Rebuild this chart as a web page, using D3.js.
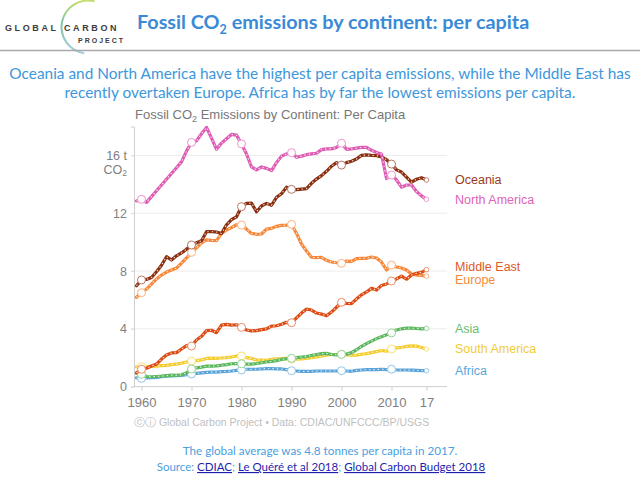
<!DOCTYPE html>
<html><head><meta charset="utf-8">
<script src="https://cdn.jsdelivr.net/npm/d3@7"></script>
<style>body{margin:0;background:#fff} svg{display:block}</style>
</head><body>
<svg id="c" width="640" height="479"></svg>
<script>
// ---------- DATA ----------
const years = d3.range(1959, 2018);
const oceania = [6.98,7.38,7.42,7.55,7.95,8.4,8.99,8.76,9.05,9.25,9.5,9.8,9.95,10.1,10.72,10.72,10.7,10.6,11.2,11.55,11.75,12.45,12.68,12.7,12.1,12.5,12.68,12.55,13.1,13.35,13.8,13.65,13.63,13.67,13.7,14.07,14.36,14.6,14.9,15.25,15.5,15.33,15.5,15.6,15.75,16.0,16.03,16.0,15.98,15.9,15.7,15.4,15.0,14.85,14.5,14.15,14.35,14.45,14.3];
const northAmerica = [12.85,12.96,12.75,13.15,13.55,13.95,14.35,14.75,15.15,15.55,16.3,16.9,17.0,17.5,17.94,17.2,16.42,16.85,17.15,17.45,17.4,16.8,16.1,15.2,15.0,15.2,15.1,14.95,15.5,15.95,16.1,16.19,15.87,15.95,16.05,16.1,16.15,16.4,16.45,16.45,16.55,16.84,16.42,16.45,16.5,16.55,16.55,16.35,16.2,16.1,14.4,14.64,14.3,13.8,13.95,13.95,13.5,13.2,12.96];
const middleEast = [0.96,1.2,1.27,1.43,1.56,1.91,2.19,2.33,2.35,2.6,2.83,2.81,3.22,3.48,3.87,3.9,3.73,4.26,4.31,4.26,4.28,4.1,3.92,3.85,3.87,3.94,4.0,4.19,4.21,4.31,4.45,4.42,4.75,5.09,5.37,5.3,5.09,5.02,4.9,5.16,5.49,5.83,5.76,5.74,6.06,6.35,6.55,6.8,6.68,7.0,7.1,7.31,7.45,7.65,7.43,7.72,7.84,7.91,8.1];
const europe = [6.18,6.5,6.75,7.1,7.45,7.72,7.93,8.07,8.2,8.55,8.9,9.29,9.6,9.94,10.15,10.12,10.1,10.6,10.84,11.0,11.2,11.18,10.9,10.6,10.54,10.56,10.9,10.95,11.09,11.16,11.18,11.23,10.6,9.87,9.38,8.95,8.92,8.95,8.74,8.62,8.57,8.53,8.69,8.67,8.85,8.88,8.88,8.97,8.9,8.62,8.07,8.41,8.28,8.21,8.07,7.79,7.72,7.69,7.65];
const asia = [0.92,0.85,0.7,0.68,0.7,0.72,0.76,0.8,0.78,0.82,0.95,1.22,1.3,1.35,1.42,1.42,1.43,1.48,1.52,1.58,1.6,1.58,1.55,1.56,1.6,1.65,1.7,1.74,1.8,1.88,1.93,1.96,2.0,2.05,2.08,2.15,2.22,2.28,2.3,2.22,2.2,2.23,2.25,2.35,2.55,2.78,2.98,3.15,3.32,3.45,3.58,3.72,3.92,4.0,4.05,4.05,4.02,4.0,4.03];
const southAmerica = [1.36,1.38,1.36,1.4,1.42,1.45,1.47,1.52,1.55,1.62,1.7,1.77,1.8,1.85,1.95,1.97,1.96,1.98,2.0,2.05,2.12,2.12,2.0,1.95,1.85,1.84,1.82,1.88,1.92,1.93,1.95,1.91,1.9,1.92,1.95,2.0,2.05,2.12,2.18,2.22,2.22,2.24,2.2,2.18,2.17,2.24,2.28,2.35,2.42,2.5,2.45,2.6,2.68,2.72,2.78,2.82,2.8,2.7,2.6];
const africa = [0.6,0.57,0.6,0.62,0.64,0.68,0.72,0.74,0.76,0.78,0.82,0.87,0.92,0.95,0.98,1.0,1.0,1.03,1.05,1.08,1.12,1.15,1.2,1.2,1.2,1.22,1.25,1.25,1.23,1.22,1.18,1.1,1.08,1.05,1.05,1.06,1.08,1.08,1.08,1.08,1.08,1.1,1.08,1.06,1.12,1.15,1.17,1.17,1.18,1.2,1.18,1.2,1.15,1.15,1.15,1.14,1.12,1.1,1.1];

const seriesNames  = ["Africa","South America","Asia","Europe","Middle East","Oceania","North America"];
const seriesValues = [africa, southAmerica, asia, europe, middleEast, oceania, northAmerica];
const lineColors   = ["#5ba4d8","#f4cd30","#5cb85f","#f7883a","#dc4c14","#8a2f10","#de5cb4"];
const labelColors  = ["#5aa6da","#f2cc33","#6cc070","#f5893a","#e05a28","#9b3b1b","#e064b9"];

const xTicks = [1960,1970,1980,1990,2000,2010,2017];
const xTickLabels = ["1960","1970","1980","1990","2000","2010","17"];
const yTicks = [0,4,8,12,16];
const yTickLabels = ["0","4","8","12","16 t"];
const markerYears = [1960,1970,1980,1990,2000,2010];

// ---------- DRAW ----------
const svg = d3.select("#c");
const sans = "'Liberation Sans', Arial, Helvetica, sans-serif";
const hfont = "Lato, 'Open Sans', sans-serif";

// Header logo
const defs = svg.append("defs");
const lg = defs.append("linearGradient").attr("id","arcg").attr("x1","0").attr("y1","0").attr("x2","0").attr("y2","1");
lg.append("stop").attr("offset","0%").attr("stop-color","#c9df6a");
lg.append("stop").attr("offset","45%").attr("stop-color","#7cc4a8");
lg.append("stop").attr("offset","100%").attr("stop-color","#a7cfe0");
svg.append("path").attr("d", d3.arc().innerRadius(25.5).outerRadius(27.5).startAngle(0.25).endAngle(-3.0)())
  .attr("transform","translate(88,27)").attr("fill","url(#arcg)");
svg.append("text").attr("x",5).attr("y",31).attr("font-family",sans).attr("font-size",9).attr("font-weight","bold")
  .attr("letter-spacing",2.6).attr("fill","#3c3c3c").text("GLOBAL");
svg.append("text").attr("x",64).attr("y",31).attr("font-family",sans).attr("font-size",9).attr("font-weight","bold")
  .attr("letter-spacing",2.6).attr("fill","#3c3c3c").text("CARBON");
svg.append("text").attr("x",78).attr("y",43).attr("font-family",sans).attr("font-size",7).attr("font-weight","bold")
  .attr("letter-spacing",2).attr("fill","#3c3c3c").text("PROJECT");

// Title
const t = svg.append("text").attr("x",137).attr("y",29).attr("font-family",hfont).attr("font-weight","bold")
  .attr("font-size",19.8).attr("fill","#3a8ad6");
t.append("tspan").text("Fossil CO");
t.append("tspan").attr("font-size",12.5).attr("dy",5).text("2");
t.append("tspan").attr("dy",-5).text(" emissions by continent: per capita");

svg.append("line").attr("x1",0).attr("x2",640).attr("y1",50.5).attr("y2",50.5).attr("stroke","#a9a9a9").attr("stroke-width",1.6);

// Subtitle
const subLines = ["Oceania and North America have the highest per capita emissions, while the Middle East has",
  "recently overtaken Europe. Africa has by far the lowest emissions per capita."];
svg.selectAll("text.sub").data(subLines).join("text").attr("class","sub")
  .attr("x",320).attr("y",(d,i)=>79+i*18.5).attr("text-anchor","middle")
  .attr("font-family",hfont).attr("font-size",15.4).attr("fill","#3d97dc").text(d=>d);

// Scales
const x = d3.scaleLinear().domain([1958.5, 2021.1]).range([134, 447]);
const y = d3.scaleLinear().domain([0, 18]).range([386.6, 126.5]);

// Chart title
const ct = svg.append("text").attr("x",135).attr("y",119).attr("font-family",sans).attr("font-size",13).attr("fill","#777");
ct.append("tspan").text("Fossil CO");
ct.append("tspan").attr("font-size",9).attr("dy",3).text("2");
ct.append("tspan").attr("dy",-3).text(" Emissions by Continent: Per Capita");

// grid
svg.append("g").selectAll("line").data(yTicks.filter(d=>d>0)).join("line")
  .attr("x1",x.range()[0]-3).attr("x2",x.range()[1]).attr("y1",d=>y(d)).attr("y2",d=>y(d))
  .attr("stroke","#ececec").attr("stroke-width",1);

// y axis
const yAxis = svg.append("g").attr("transform",`translate(${x.range()[0]},0)`)
  .call(d3.axisLeft(y).tickValues(yTicks).tickSize(3).tickPadding(4).tickFormat((d,i)=>yTickLabels[i]));
yAxis.select(".domain").attr("stroke","#cfcfcf");
yAxis.selectAll(".tick line").attr("stroke","#dcdcdc");
yAxis.selectAll("text").attr("font-family",sans).attr("font-size",12.5).attr("fill","#808080");
const co2 = svg.append("text").attr("x",127).attr("y",y(16)+18.5).attr("text-anchor","end")
  .attr("font-family",sans).attr("font-size",12.5).attr("fill","#808080");
co2.append("tspan").text("CO");
co2.append("tspan").attr("font-size",8.5).attr("dy",2.5).text("2");

// x axis
const xAxis = svg.append("g").attr("transform",`translate(0,${y(0)})`)
  .call(d3.axisBottom(x).tickValues(xTicks).tickSize(4).tickPadding(7).tickFormat((d,i)=>xTickLabels[i]));
xAxis.select(".domain").attr("stroke","#cfcfcf").attr("d",`M${x.range()[0]},0H${x.range()[1]}`);
xAxis.selectAll(".tick line").attr("stroke","#cfcfcf");
xAxis.selectAll("text").attr("font-family",sans).attr("font-size",13).attr("fill","#808080");

// Lines
const line = d3.line().x((d,i)=>x(years[i])).y(d=>y(d)).curve(d3.curveLinear);
const g = svg.append("g");
seriesValues.forEach((vals, k) => {
  g.append("path").attr("d", line(vals)).attr("fill","none").attr("stroke",lineColors[k])
    .attr("stroke-width",3.2).attr("stroke-linejoin","round").attr("stroke-linecap","round");
  g.append("path").attr("d", line(vals)).attr("fill","none").attr("stroke","#fff")
    .attr("stroke-width",1.1).attr("stroke-dasharray","1.4 3").attr("opacity",0.85);
  const light = d3.interpolateRgb(lineColors[k], "#ffffff")(0.35);
  g.selectAll(null).data(markerYears).join("circle")
    .attr("cx",d=>x(d)).attr("cy",d=>y(vals[years.indexOf(d)])).attr("r",4)
    .attr("fill","#fff").attr("stroke",light).attr("stroke-width",1);
  g.append("circle").attr("cx",x(2017)).attr("cy",y(vals[vals.length-1])).attr("r",2.3)
    .attr("fill","#fff").attr("stroke",light).attr("stroke-width",0.9);
});

// Labels (end-of-line, with simple collision relaxation)
const labs = seriesNames.map((n,k)=>({name:n, color:labelColors[k], y:y(seriesValues[k][seriesValues[k].length-1])}));
labs.sort((a,b)=>a.y-b.y);
const minGap = 13;
for (let it=0; it<50; it++) {
  for (let i=1;i<labs.length;i++) {
    const gap = labs[i].y - labs[i-1].y;
    if (gap < minGap) { const d=(minGap-gap)/2; labs[i].y+=d; labs[i-1].y-=d; }
  }
}
svg.append("g").selectAll("text").data(labs).join("text")
  .attr("x",455).attr("y",d=>d.y+4.3).attr("font-family",sans).attr("font-size",12.5)
  .attr("fill",d=>d.color).text(d=>d.name);

// Footer credit
svg.append("text").attr("x",134).attr("y",426).attr("font-family",sans).attr("font-size",10.5)
  .attr("fill","#c0c0c0").text("ⓒⓘ Global Carbon Project  •  Data: CDIAC/UNFCCC/BP/USGS");

// Bottom notes
svg.append("text").attr("x",320).attr("y",455).attr("text-anchor","middle").attr("font-family",hfont)
  .attr("font-size",11.7).attr("fill","#4a9fe0").text("The global average was 4.8 tonnes per capita in 2017.");
const src = svg.append("text").attr("x",321).attr("y",471).attr("text-anchor","middle").attr("font-family",hfont)
  .attr("font-size",11.5).attr("fill","#4a9fe0");
src.append("tspan").text("Source: ");
src.append("tspan").attr("fill","#1f1fb0").attr("text-decoration","underline").text("CDIAC");
src.append("tspan").text("; ");
src.append("tspan").attr("fill","#1f1fb0").attr("text-decoration","underline").text("Le Quéré et al 2018");
src.append("tspan").text("; ");
src.append("tspan").attr("fill","#1f1fb0").attr("text-decoration","underline").text("Global Carbon Budget 2018");
</script>
</body></html>
